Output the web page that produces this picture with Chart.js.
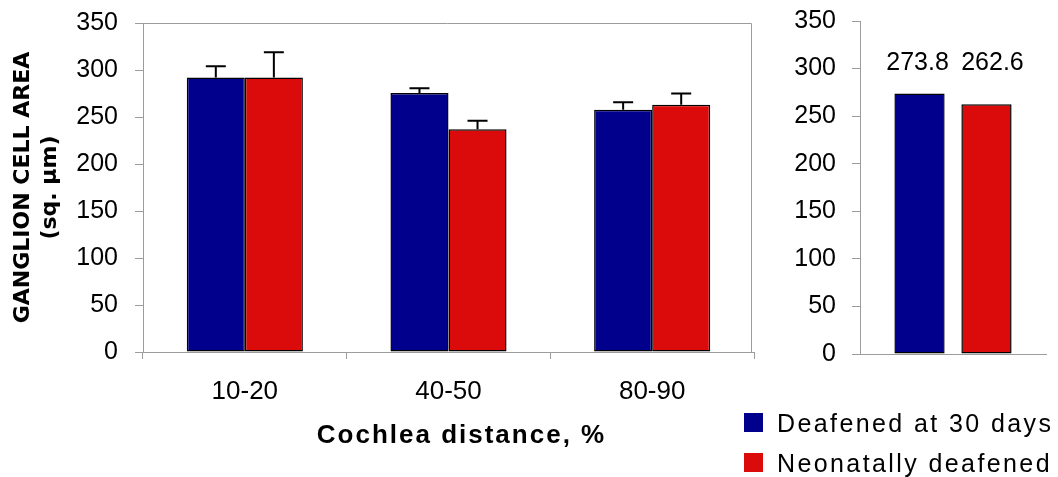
<!DOCTYPE html>
<html>
<head>
<meta charset="utf-8">
<script src="https://cdn.jsdelivr.net/npm/chart.js@4.4.1/dist/chart.umd.min.js"></script>
<style>
  html, body { margin: 0; padding: 0; background: #fff; }
  #wrap { position: relative; width: 1058px; height: 477px; overflow: hidden; background: #fff; }
  canvas { position: absolute; top: 0; }
  #leftChart { left: 0; }
  #rightChart { left: 760px; }
  .txt { position: absolute; font-family: "Liberation Sans", Arial, sans-serif; color: #000; white-space: nowrap; }
  #xTitle { left: 0; width: 923px; top: 421px; text-align: center; font-size: 26px; line-height: 26px; font-weight: bold; letter-spacing: 2px; }
  .legItem { position: absolute; left: 744px; height: 25px; }
  .legItem .sw { position: absolute; left: 0; width: 19px; height: 19px; top: 2px; }
  .legItem .lab { position: absolute; left: 33px; top: 0; font-size: 25px; line-height: 25px; letter-spacing: 2.4px; }
</style>
</head>
<body>
<div id="wrap">
  <canvas id="leftChart" width="770" height="477"></canvas>
  <canvas id="rightChart" width="298" height="477"></canvas>
  <div id="xTitle" class="txt"></div>
  <div id="legend"></div>
</div>
<script>
// ---- data ----
const categories = ['10-20', '40-50', '80-90'];
const seriesNames = ['Deafened at 30 days', 'Neonatally deafened'];
const seriesColors = ['#00008c', '#dc0b0b'];
const deafened30 = [292, 275.5, 257.7];
const neonatal = [292, 237, 263];
const deafened30Err = [12, 5, 8];
const neonatalErr = [27, 9, 12];
const overallMeans = [273.8, 262.6];
const yMin = 0, yMax = 350, yStep = 50;
const xAxisTitle = 'Cochlea distance, %';
const yAxisTitle = ['GANGLION CELL AREA', '(sq. \u00b5m)'];

Chart.defaults.font.family = '"Liberation Sans", Arial, sans-serif';
Chart.defaults.color = '#000';

const axisGray = '#9c9c9c';

// error bars plugin (upper whiskers)
const errorBars = {
  id: 'errorBars',
  afterDatasetsDraw(chart) {
    const ctx = chart.ctx;
    const yScale = chart.scales.y;
    chart.data.datasets.forEach((ds, i) => {
      if (!ds.errors) return;
      const meta = chart.getDatasetMeta(i);
      meta.data.forEach((el, j) => {
        const v = ds.data[j], e = ds.errors[j];
        const yTop = yScale.getPixelForValue(v);
        const yErr = yScale.getPixelForValue(v + e);
        ctx.save();
        ctx.strokeStyle = '#000';
        ctx.lineWidth = 2;
        ctx.beginPath();
        ctx.moveTo(el.x, yTop);
        ctx.lineTo(el.x, yErr);
        ctx.moveTo(el.x - 10, yErr);
        ctx.lineTo(el.x + 10, yErr);
        ctx.stroke();
        ctx.restore();
      });
    });
  }
};

// frame (top and right edges of plot box)
const plotFrame = {
  id: 'plotFrame',
  afterDraw(chart) {
    const {ctx, chartArea: a} = chart;
    ctx.save();
    ctx.strokeStyle = axisGray;
    ctx.lineWidth = 1;
    ctx.beginPath();
    ctx.moveTo(a.left, a.top + 0.5);
    ctx.lineTo(a.right - 2.5, a.top + 0.5);
    ctx.lineTo(a.right - 2.5, a.bottom);
    ctx.stroke();
    ctx.restore();
  }
};

// value labels for summary chart (drawn at a common level above tallest bar)
const valueLabels = {
  id: 'valueLabels',
  afterDatasetsDraw(chart) {
    const ctx = chart.ctx;
    let minY = Infinity;
    chart.data.datasets.forEach((ds, i) => {
      chart.getDatasetMeta(i).data.forEach(el => { minY = Math.min(minY, el.y); });
    });
    const level = minY - 30;
    ctx.save();
    ctx.font = '25px "Liberation Sans", Arial, sans-serif';
    ctx.fillStyle = '#000';
    ctx.textAlign = 'center';
    ctx.textBaseline = 'middle';
    chart.data.datasets.forEach((ds, i) => {
      chart.getDatasetMeta(i).data.forEach((el, j) => {
        ctx.fillText(ds.data[j].toFixed(1), el.x + (i === 0 ? -2 : 6), level);
      });
    });
    ctx.restore();
  }
};

function noLabelPadding(s) {
  s.paddingTop = 0;
  s.paddingBottom = 0;
}

const barStyle = { borderColor: '#000', borderWidth: 1.5, borderSkipped: false };

new Chart(document.getElementById('leftChart'), {
  type: 'bar',
  data: {
    labels: categories,
    datasets: [
      Object.assign({ label: seriesNames[0], data: deafened30, errors: deafened30Err, backgroundColor: seriesColors[0],
        categoryPercentage: 0.57, barPercentage: 1.0 }, barStyle),
      Object.assign({ label: seriesNames[1], data: neonatal, errors: neonatalErr, backgroundColor: seriesColors[1],
        categoryPercentage: 0.57, barPercentage: 1.0 }, barStyle)
    ]
  },
  options: {
    responsive: false,
    animation: false,
    devicePixelRatio: 1,
    layout: { padding: { top: 23, right: 16, left: 0, bottom: 0 } },
    plugins: { legend: { display: false }, tooltip: { enabled: false } },
    scales: {
      x: {
        grid: { drawOnChartArea: false, color: axisGray, tickLength: 7, offset: true },
        border: { color: axisGray, width: 1 },
        ticks: { font: { size: 26 }, color: '#000', padding: 17 },
        afterFit(s) { s.height = 125; }
      },
      y: {
        min: yMin, max: yMax,
        ticks: { stepSize: yStep, font: { size: 25 }, color: '#000', padding: 17 },
        grid: { drawOnChartArea: false, color: axisGray, tickLength: 8 },
        border: { color: axisGray, width: 1 },
        title: {
          display: true, text: yAxisTitle, color: '#000',
          font: { family: '"DejaVu Sans", Verdana, sans-serif', weight: 'bold', size: 22, lineHeight: '27px' },
          padding: { top: 9.5, bottom: 0 }
        },
        afterFit(s) { s.width = 143; noLabelPadding(s); }
      }
    }
  },
  plugins: [errorBars, plotFrame]
});

new Chart(document.getElementById('rightChart'), {
  type: 'bar',
  data: {
    labels: [''],
    datasets: [
      Object.assign({ label: seriesNames[0], data: [overallMeans[0]], backgroundColor: seriesColors[0],
        categoryPercentage: 0.72, barPercentage: 0.75 }, barStyle),
      Object.assign({ label: seriesNames[1], data: [overallMeans[1]], backgroundColor: seriesColors[1],
        categoryPercentage: 0.72, barPercentage: 0.75 }, barStyle)
    ]
  },
  options: {
    responsive: false,
    animation: false,
    devicePixelRatio: 1,
    layout: { padding: { top: 21, right: 12, left: 0, bottom: 0 } },
    plugins: { legend: { display: false }, tooltip: { enabled: false } },
    scales: {
      x: {
        grid: { display: false },
        ticks: { display: false },
        border: { color: axisGray, width: 1 },
        afterFit(s) { s.height = 123; }
      },
      y: {
        min: yMin, max: yMax,
        ticks: { stepSize: yStep, font: { size: 25 }, color: '#000', padding: 16 },
        grid: { drawOnChartArea: false, color: axisGray, tickLength: 8 },
        border: { color: axisGray, width: 1 },
        afterFit(s) { s.width = 100; noLabelPadding(s); }
      }
    }
  },
  plugins: [valueLabels]
});

// HTML axis title and legend
document.getElementById('xTitle').textContent = xAxisTitle;
const legend = document.getElementById('legend');
const legTops = [411, 451];
seriesNames.forEach((name, i) => {
  const item = document.createElement('div');
  item.className = 'legItem txt';
  item.style.top = legTops[i] + 'px';
  const sw = document.createElement('div');
  sw.className = 'sw';
  sw.style.background = seriesColors[i];
  const lab = document.createElement('div');
  lab.className = 'lab';
  lab.textContent = name;
  item.appendChild(sw);
  item.appendChild(lab);
  legend.appendChild(item);
});
</script>
</body>
</html>
